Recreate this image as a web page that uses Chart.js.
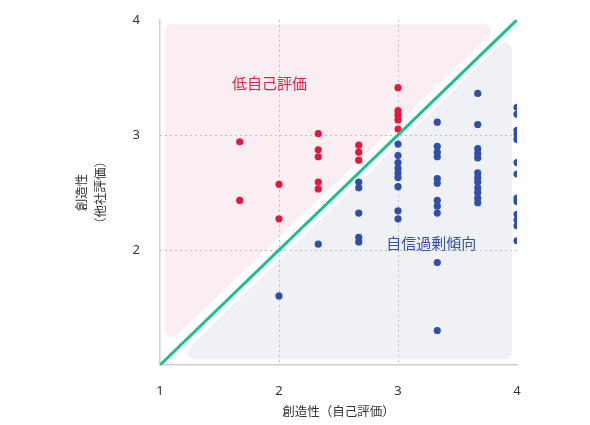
<!DOCTYPE html>
<html><head><meta charset="utf-8">
<script src="https://cdn.jsdelivr.net/npm/chart.js@4/dist/chart.umd.min.js"></script>
<style>html,body{margin:0;padding:0;background:#fff}#w{width:590px;height:425px}</style>
</head><body><div id="w"><canvas id="c"></canvas></div>
<script>
const xTitle = '創造性（自己評価）';
const yTitle = ['創造性', '（他社評価）'];
const lowLabel = '低自己評価';
const overLabel = '自信過剰傾向';
const tickValues = [1, 2, 3, 4];
const gridValues = [2, 3];
const lowSelfX = [1.67,1.67,2,2,2.33,2.33,2.33,2.33,2.33,2.67,2.67,2.67,3,3,3,3,3];
const lowSelfY = [2.94,2.43,2.57,2.27,3.01,2.87,2.81,2.59,2.53,2.91,2.85,2.78,3.41,3.21,3.17,3.13,3.05];
const overX = [2,2.33,2.67,2.67,2.67,2.67,2.67,
  3,3,3,3,3,3,3,3,3,
  3.33,3.33,3.33,3.33,3.33,3.33,3.33,3.33,3.33,3.33,3.33,
  3.67,3.67,3.67,3.67,3.67,3.67,3.67,3.67,3.67,3.67,3.67,3.67,
  4,4,4,4,4,4,4,4,4,4,4,4,4];
const overY = [1.60,2.05,2.59,2.54,2.32,2.11,2.07,
  2.92,2.82,2.76,2.71,2.67,2.63,2.55,2.34,2.27,
  3.11,2.90,2.85,2.81,2.62,2.58,2.43,2.38,2.32,1.89,1.30,
  3.36,3.09,2.88,2.84,2.80,2.67,2.63,2.59,2.54,2.50,2.45,2.41,
  3.24,3.18,3.04,3.00,2.96,2.76,2.66,2.45,2.42,2.31,2.26,2.21,2.08];
const pinkZone = [[1.1,3.9],[3.72,3.9],[1.1,1.3]];
const blueZone = [[1.29,1.11],[3.9,1.11],[3.9,3.74]];
const diag = [{x:1,y:1},{x:4,y:4}];
const zip = (a,b)=>a.map((v,i)=>({x:v,y:b[i]}));

const bg = {
  id:'bg',
  beforeDatasetsDraw(ch){
    const {ctx, chartArea:a, scales:{x,y}} = ch;
    const poly = (pts, col) => {
      ctx.save(); ctx.beginPath();
      pts.forEach((p,i)=>{const px=x.getPixelForValue(p[0]),py=y.getPixelForValue(p[1]); i?ctx.lineTo(px,py):ctx.moveTo(px,py);});
      ctx.closePath(); ctx.fillStyle=col; ctx.strokeStyle=col; ctx.lineWidth=14; ctx.lineJoin='round';
      ctx.stroke(); ctx.fill(); ctx.restore();
    };
    poly(pinkZone,'#fbeef2'); poly(blueZone,'#eff1f7');
    ctx.save();
    ctx.strokeStyle='#bdbdbd'; ctx.lineWidth=1; ctx.setLineDash([2,3]);
    gridValues.forEach(v=>{
      const px=Math.round(x.getPixelForValue(v))+0.5, py=Math.round(y.getPixelForValue(v))+0.5;
      ctx.beginPath(); ctx.moveTo(px,a.top); ctx.lineTo(px,a.bottom); ctx.stroke();
      ctx.beginPath(); ctx.moveTo(a.left,py); ctx.lineTo(a.right,py); ctx.stroke();
    });
    ctx.setLineDash([]);
    ctx.font='15px "Noto Sans CJK JP"'; ctx.textAlign='center'; ctx.textBaseline='middle';
    ctx.fillStyle='#e0203f'; ctx.fillText(lowLabel, x.getPixelForValue(1.92), y.getPixelForValue(3.45));
    ctx.fillStyle='#3551a6'; ctx.fillText(overLabel, x.getPixelForValue(3.28), y.getPixelForValue(2.06));
    ctx.restore();
  }
};
new Chart(document.getElementById('c'), {
  type:'scatter',
  data:{datasets:[
    {data:diag, type:'line', borderColor:'#1dbf8e', borderWidth:3, pointRadius:0, order:0},
    {data:zip(lowSelfX,lowSelfY), backgroundColor:'#e5173f', borderWidth:0, pointRadius:3.6, order:1},
    {data:zip(overX,overY), backgroundColor:'#2f4fa8', borderWidth:0, pointRadius:3.6, order:1}
  ]},
  options:{
    animation:false, responsive:true, maintainAspectRatio:false,
    layout:{padding:{left:72,right:73,top:10,bottom:0}},
    plugins:{legend:{display:false},tooltip:{enabled:false}},
    scales:{
      x:{min:1,max:4,afterBuildTicks:s=>{s.ticks=tickValues.map(v=>({value:v}));},
        afterFit:s=>{s.height=60;},
        grid:{display:false},
        border:{color:'#cfcfcf',width:1.5},
        ticks:{color:'#333',font:{size:13,family:'Noto Sans'},padding:10},
        title:{display:true,text:xTitle,color:'#333',font:{size:12.5,family:'Noto Sans CJK JP'},padding:{top:6,bottom:6}}},
      y:{min:1,max:4,afterBuildTicks:s=>{s.ticks=tickValues.map(v=>({value:v}));},
        afterFit:s=>{s.width=88;},
        grid:{display:false},
        border:{color:'#cfcfcf',width:1.5},
        ticks:{color:'#333',font:{size:13,family:'Noto Sans'},padding:12,callback:v=>v===1?'':v},
        title:{display:true,text:yTitle,color:'#333',font:{size:12.5,family:'Noto Sans CJK JP',lineHeight:1.5},padding:0}}
    }
  },
  plugins:[bg]
});
</script></body></html>
